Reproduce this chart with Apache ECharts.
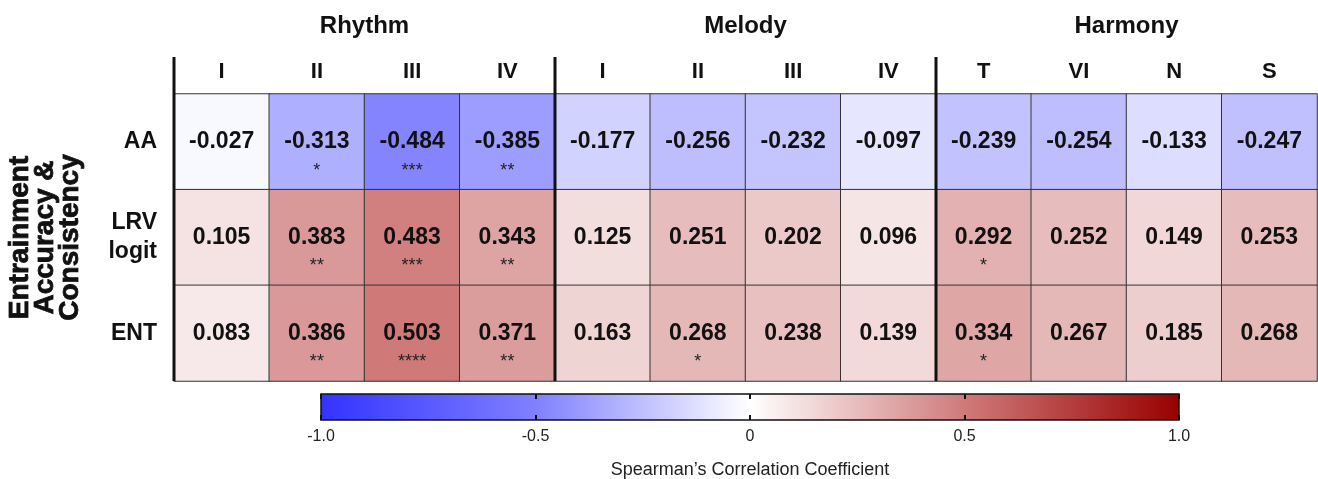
<!DOCTYPE html>
<html lang="en">
<head>
    <meta charset="utf-8">
    <title>Entrainment correlations</title>
    <script src="https://cdn.jsdelivr.net/npm/echarts@6/dist/echarts.min.js"></script>
    <style>
        html, body { margin: 0; padding: 0; background: #fff; }
        #main { width: 1318px; height: 479px; }
    </style>
</head>
<body>
    <div id="main"></div>
    <script type="text/javascript">
    // --- data ---
    var groups = ['Rhythm', 'Melody', 'Harmony'];
    var colLabels = ['I', 'II', 'III', 'IV', 'I', 'II', 'III', 'IV', 'T', 'VI', 'N', 'S'];
    var rowLabels = ['AA', 'LRV\nlogit', 'ENT'];

    var aaValues  = [-0.027, -0.313, -0.484, -0.385, -0.177, -0.256, -0.232, -0.097, -0.239, -0.254, -0.133, -0.247];
    var lrvValues = [0.105, 0.383, 0.483, 0.343, 0.125, 0.251, 0.202, 0.096, 0.292, 0.252, 0.149, 0.253];
    var entValues = [0.083, 0.386, 0.503, 0.371, 0.163, 0.268, 0.238, 0.139, 0.334, 0.267, 0.185, 0.268];

    var aaStars  = ['', '*', '***', '**', '', '', '', '', '', '', '', ''];
    var lrvStars = ['', '**', '***', '**', '', '', '', '', '*', '', '', ''];
    var entStars = ['', '**', '****', '**', '', '*', '', '', '*', '', '', ''];

    // build heatmap triples [col, row, value]
    var rowsValues = [aaValues, lrvValues, entValues];
    var rowsStars = [aaStars, lrvStars, entStars];
    var cells = [];
    rowsValues.forEach(function (vals, r) {
        vals.forEach(function (v, c) {
            cells.push([c, r, v]);
        });
    });

    var FONT = "'Liberation Sans', Arial, sans-serif";

    var myChart = echarts.init(document.getElementById('main'));

    myChart.setOption({
        backgroundColor: '#ffffff',
        textStyle: { fontFamily: FONT },
        grid: [
            { left: 174, right: 1, top: 94, bottom: 98, containLabel: false, outerBoundsMode: 'none' },
            // colorbar frame
            { left: 321, width: 858, top: 394, height: 26, show: true, z: 10,
              containLabel: false, outerBoundsMode: 'none',
              borderColor: '#111', borderWidth: 1.5, backgroundColor: 'transparent' }
        ],
        xAxis: [
            {
                type: 'category', gridIndex: 0, position: 'top',
                data: colLabels.map(function (l, i) { return String(i); }),
                axisLine: { show: false }, axisTick: { show: false }, splitLine: { show: false },
                axisLabel: {
                    margin: 11, fontSize: 22, fontWeight: 'bold', color: '#111', fontFamily: FONT,
                    formatter: function (v, i) { return colLabels[i]; }
                }
            },
            {
                type: 'category', gridIndex: 0, position: 'top', offset: 50,
                data: groups,
                axisLine: { show: false }, axisTick: { show: false }, splitLine: { show: false },
                axisLabel: { margin: 6, fontSize: 24, fontWeight: 'bold', color: '#111', fontFamily: FONT }
            },
            {
                type: 'value', gridIndex: 1, position: 'bottom', min: -1, max: 1, interval: 0.5, z: 10,
                axisLine: { show: false },
                axisTick: { show: true, inside: true, length: 5, lineStyle: { color: '#111', width: 2 } },
                splitLine: { show: false },
                axisLabel: {
                    margin: 9, fontSize: 16, color: '#222', fontFamily: FONT,
                    formatter: function (v) { return v === 0 ? '0' : v.toFixed(1); }
                },
                name: 'Spearman\u2019s Correlation Coefficient',
                nameLocation: 'middle', nameGap: 41,
                nameTextStyle: { fontSize: 18, color: '#222', fontFamily: FONT }
            },
            {
                type: 'value', gridIndex: 1, position: 'top', min: -1, max: 1, interval: 0.5, z: 10,
                axisLine: { show: false },
                axisTick: { show: true, inside: true, length: 5, lineStyle: { color: '#111', width: 2 } },
                splitLine: { show: false },
                axisLabel: { show: false }
            }
        ],
        yAxis: [
            {
                type: 'category', gridIndex: 0, inverse: true,
                data: rowLabels,
                axisLine: { show: false }, axisTick: { show: false }, splitLine: { show: false },
                axisLabel: {
                    margin: 17, fontSize: 23, fontWeight: 'bold', color: '#111',
                    lineHeight: 29, align: 'right', fontFamily: FONT
                },
                name: 'Entrainment\nAccuracy &\nConsistency',
                nameLocation: 'middle', nameRotate: 90, nameGap: 91,
                nameTextStyle: {
                    fontSize: 28, fontWeight: 'bold', color: '#111', lineHeight: 25,
                    fontFamily: FONT, textBorderColor: '#111', textBorderWidth: 0.8
                }
            },
            {
                type: 'value', gridIndex: 1, show: false, min: 0, max: 1
            }
        ],
        visualMap: {
            type: 'continuous',
            seriesIndex: 0,
            min: -1, max: 1,
            orient: 'horizontal',
            left: 321, top: 394,
            itemWidth: 26, itemHeight: 858,
            padding: 0,
            calculable: false,
            text: null,
            showLabel: false,
            inRange: { color: ['#3333ff', '#8080ff', '#ffffff', '#cf7a7a', '#990000'] }
        },
        series: [{
            type: 'heatmap',
            xAxisIndex: 0, yAxisIndex: 0,
            data: cells,
            itemStyle: { borderColor: '#333', borderWidth: 1 },
            emphasis: { disabled: true },
            label: {
                show: true,
                formatter: function (p) {
                    var s = rowsStars[p.data[1]][p.data[0]];
                    return '{s| }\n{v|' + p.data[2].toFixed(3) + '}\n{s|' + (s || ' ') + '}';
                },
                rich: {
                    v: { fontSize: 23, fontWeight: 'bold', color: '#111', lineHeight: 30, fontFamily: FONT },
                    s: { fontSize: 18, color: '#222', lineHeight: 28, fontFamily: FONT }
                }
            }
        }]
    });

    // thick separators between the three groups
    var c0 = myChart.convertToPixel({ xAxisIndex: 0 }, 0);
    var c1 = myChart.convertToPixel({ xAxisIndex: 0 }, 1);
    var halfW = (c1 - c0) / 2;
    var r0 = myChart.convertToPixel({ yAxisIndex: 0 }, 0);
    var r1 = myChart.convertToPixel({ yAxisIndex: 0 }, 1);
    var bottomY = myChart.convertToPixel({ yAxisIndex: 0 }, rowLabels.length - 1) + (r1 - r0) / 2;
    var dividers = [];
    [0, 4, 8].forEach(function (idx) {
        var x = myChart.convertToPixel({ xAxisIndex: 0 }, idx) - halfW;
        dividers.push({
            type: 'line', z: 20,
            shape: { x1: x, y1: 57, x2: x, y2: bottomY },
            style: { stroke: '#111', lineWidth: 3 }
        });
    });
    myChart.setOption({ graphic: dividers });
    </script>
</body>
</html>
